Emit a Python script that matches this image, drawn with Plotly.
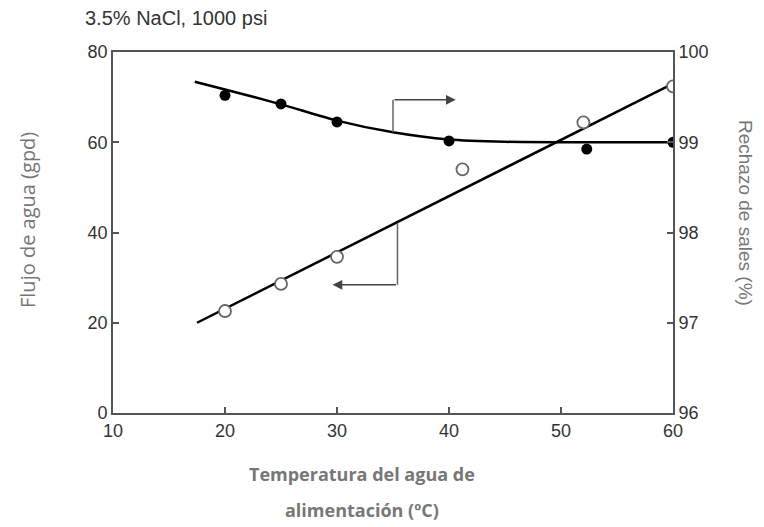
import plotly.graph_objects as go

# ---- data ----
flux_x = [20, 25, 30, 40, 52.3, 60]
flux_y = [70.4, 68.5, 64.5, 60.3, 58.5, 60.0]

flux_curve_x = [17.3, 20, 25, 30, 35, 40, 45, 50, 55, 60]
flux_curve_y = [73.4, 71.7, 68.4, 64.8, 62.2, 60.6, 60.1, 60.0, 60.0, 60.0]

rej_x = [20, 25, 30, 41.2, 52, 60]
rej_y = [97.13, 97.43, 97.73, 98.70, 99.22, 99.62]

rej_line_x = [17.5, 60]
rej_line_y = [97.0, 99.65]

x_ticks = [10, 20, 30, 40, 50, 60]
y_ticks = [0, 20, 40, 60, 80]
y2_ticks = [96, 97, 98, 99, 100]

# bracket pointers (left-axis units)
upper_bracket = dict(x=35.0, y0=62.2, y1=69.4, tip=40.6)
lower_bracket = dict(x=35.4, y0=42.0, y1=28.4, tip=29.6)

AX = "#555555"
TXT = "#333333"
TITLE = "#777777"

fig = go.Figure()

fig.add_trace(go.Scatter(x=flux_curve_x, y=flux_curve_y, mode="lines",
                         line=dict(color="black", width=2.5, shape="spline", smoothing=0.7),
                         hoverinfo="skip", showlegend=False))
fig.add_trace(go.Scatter(x=flux_x, y=flux_y, mode="markers",
                         marker=dict(color="black", size=11), showlegend=False))

fig.add_trace(go.Scatter(x=rej_line_x, y=rej_line_y, mode="lines", yaxis="y2",
                         line=dict(color="black", width=2.5),
                         hoverinfo="skip", showlegend=False))
fig.add_trace(go.Scatter(x=rej_x, y=rej_y, mode="markers", yaxis="y2",
                         marker=dict(color="white", size=12, line=dict(color="#666666", width=1.8)),
                         showlegend=False))

# brackets
for b in (upper_bracket, lower_bracket):
    fig.add_shape(type="line", xref="x", yref="y", x0=b["x"], x1=b["x"], y0=b["y0"], y1=b["y1"],
                  line=dict(color="#666666", width=1.5))
    fig.add_annotation(x=b["tip"], y=b["y1"], ax=b["x"], ay=b["y1"], xref="x", yref="y",
                       axref="x", ayref="y", text="", showarrow=True, arrowhead=2,
                       arrowsize=1.3, arrowwidth=1.5, arrowcolor="#444444")

fig.add_annotation(text="3.5% NaCl, 1000 psi", xref="paper", yref="paper",
                   x=(83 - 113) / 560, y=1 + (52 - 18) / 361, xanchor="left", yanchor="middle",
                   showarrow=False, font=dict(family="Liberation Sans, Arial", size=20, color=TXT))

fig.add_annotation(text="Flujo de agua (gpd)", xref="paper", yref="paper",
                   x=(27 - 113) / 560, y=(413 - 220) / 361, textangle=-90,
                   xanchor="center", yanchor="middle", showarrow=False,
                   font=dict(family="Open Sans", size=20, color=TITLE))
fig.add_annotation(text="Rechazo de sales (%)", xref="paper", yref="paper",
                   x=(746 - 113) / 560, y=(413 - 213) / 361, textangle=90,
                   xanchor="center", yanchor="middle", showarrow=False,
                   font=dict(family="Liberation Sans, Arial", size=19, color=TITLE))
fig.add_annotation(text="<b>Temperatura del agua de</b>", xref="paper", yref="paper",
                   x=(362 - 113) / 560, y=-(474 - 413) / 361,
                   xanchor="center", yanchor="middle", showarrow=False,
                   font=dict(family="Open Sans", size=18, color=TITLE))
fig.add_annotation(text="<b>alimentación (ºC)</b>", xref="paper", yref="paper",
                   x=(362 - 113) / 560, y=-(510 - 413) / 361,
                   xanchor="center", yanchor="middle", showarrow=False,
                   font=dict(family="Open Sans", size=18, color=TITLE))

tickfont = dict(family="Liberation Sans, Arial", size=18, color=TXT)

fig.update_layout(
    width=764, height=527,
    margin=dict(l=113, r=91, t=52, b=114),
    paper_bgcolor="white", plot_bgcolor="white",
    xaxis=dict(range=[10, 60], tickvals=x_ticks, ticks="inside", ticklen=6, tickwidth=1.5,
               tickcolor=AX, showline=True, linecolor=AX, linewidth=1.8, mirror=True,
               showgrid=False, zeroline=False, tickfont=tickfont),
    yaxis=dict(range=[0, 80], tickvals=y_ticks, ticks="inside", ticklen=6, tickwidth=1.5,
               tickcolor=AX, showline=True, linecolor=AX, linewidth=1.8,
               showgrid=False, zeroline=False, tickfont=tickfont),
    yaxis2=dict(range=[96, 100], tickvals=y2_ticks, ticks="inside", ticklen=6, tickwidth=1.5,
                tickcolor=AX, showline=True, linecolor=AX, linewidth=1.8, overlaying="y",
                side="right", showgrid=False, zeroline=False, tickfont=tickfont),
)

fig.write_html("out.html", config={"displayModeBar": False})
with open("out.html", encoding="utf-8") as f:
    html = f.read()
html = html.replace("<head>", "<head><style>html,body{margin:0;padding:0;overflow:hidden;}</style>", 1)
with open("out.html", "w", encoding="utf-8") as f:
    f.write(html)
